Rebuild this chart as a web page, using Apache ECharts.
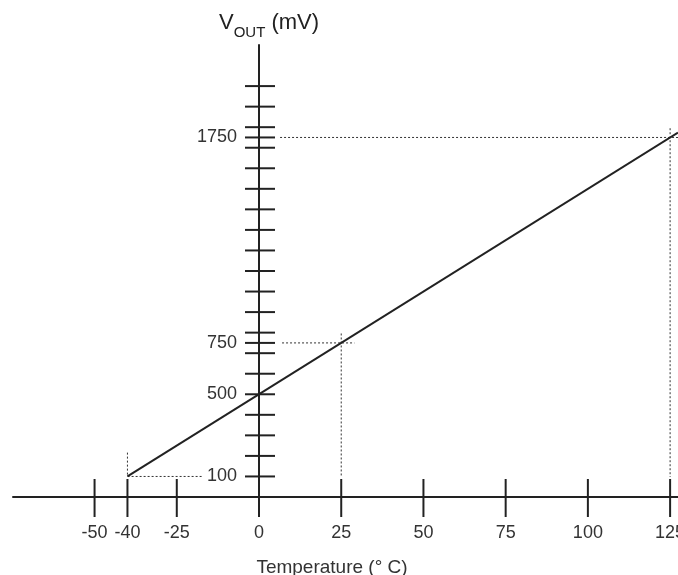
<!DOCTYPE html>
<html>
<head>
<meta charset="utf-8">
<script src="https://cdn.jsdelivr.net/npm/echarts@6/dist/echarts.min.js"></script>
<style>
  html, body { margin: 0; padding: 0; background: #fff; }
  #chart { width: 678px; height: 575px; }
</style>
</head>
<body>
<div id="chart"></div>
<script>
// temperature axis (°C) and output axis (mV)
const tempTicks = [-50, -40, -25, 0, 25, 50, 75, 100, 125];
const voutTicks = [100, 200, 300, 400, 500, 600, 700, 750, 800, 900, 1000, 1100, 1200,
  1300, 1400, 1500, 1600, 1700, 1750, 1800, 1900, 2000];
const voutLabels = [100, 500, 750, 1750];

// transfer line Vout vs temperature
const transferLine = [[-40, 100], [127.4, 1774]];

// dotted guide lines
const guideMin = [[-40, 216], [-40, 100], [-17, 100]];
const guideRoom = [[7, 750], [29, 750]];
const guideRoomV = [[25, 796], [25, 100]];
const guideMax = [[6.4, 1750], [127.4, 1750]];
const guideMaxV = [[125, 1795], [125, 97]];

const ink = '#222';
const font = 'Liberation Sans, Arial, sans-serif';

const chart = echarts.init(document.getElementById('chart'));

const guide = (data) => ({
  type: 'line',
  data: data,
  symbol: 'none',
  silent: true,
  lineStyle: { color: '#333', width: 1, type: [2, 2] },
  z: 2,
});

chart.setOption({
  animation: false,
  backgroundColor: '#fff',
  title: {
    text: '{v|V}{s|OUT}{v| (mV)}',
    left: 214,
    top: 5,
    textStyle: {
      fontWeight: 'normal',
      rich: {
        v: { fontSize: 22, color: ink, fontFamily: font, fontWeight: 'normal', verticalAlign: 'bottom', lineHeight: 24 },
        s: { fontSize: 15, color: ink, fontFamily: font, fontWeight: 'normal', verticalAlign: 'bottom', lineHeight: 14, padding: [0, 0, -6, 0] },
      },
    },
  },
  grid: { left: 13, right: 0, top: 45, bottom: 78, containLabel: false, outerBoundsMode: 'none' },
  xAxis: {
    type: 'value',
    min: -74.8,
    max: 127.4,
    splitLine: { show: false },
    axisLine: { onZero: true, lineStyle: { color: ink, width: 2 } },
    axisTick: { show: false },
    axisLabel: {
      customValues: tempTicks,
      margin: 27,
      fontSize: 18,
      color: '#333',
      fontFamily: font,
    },
    name: 'Temperature (° C)',
    nameLocation: 'middle',
    nameGap: 61,
    nameTextStyle: { fontSize: 19, color: '#333', fontFamily: font, padding: [0, 27, 0, 0] },
  },
  yAxis: {
    type: 'value',
    min: 0,
    max: 2200,
    splitLine: { show: false },
    axisLine: { onZero: true, lineStyle: { color: ink, width: 2 } },
    axisTick: { show: false },
    axisLabel: { show: false },
  },
  series: [
    guide(guideMin),
    guide(guideRoom),
    guide(guideRoomV),
    guide(guideMax),
    guide(guideMaxV),
    {
      type: 'line',
      data: transferLine,
      symbol: 'none',
      lineStyle: { color: ink, width: 2 },
      z: 4,
    },
    {
      // x ticks crossing the axis
      type: 'custom',
      data: tempTicks.map(v => [v]),
      renderItem: (params, api) => {
        const p = api.coord([api.value(0), 0]);
        return {
          type: 'line',
          shape: { x1: p[0], y1: p[1] - 18, x2: p[0], y2: p[1] + 20 },
          style: { stroke: ink, lineWidth: 2 },
        };
      },
      z: 5,
    },
    {
      // y ticks crossing the axis
      type: 'custom',
      data: voutTicks.map(v => [0, v]),
      encode: { x: 0, y: 1 },
      renderItem: (params, api) => {
        const p = api.coord([0, api.value(1)]);
        return {
          type: 'line',
          shape: { x1: p[0] - 14, y1: p[1], x2: p[0] + 16, y2: p[1] },
          style: { stroke: ink, lineWidth: 2 },
        };
      },
      z: 5,
    },
    {
      // y labels left of the vertical axis
      type: 'custom',
      data: voutLabels.map(v => [0, v]),
      encode: { x: 0, y: 1 },
      renderItem: (params, api) => {
        const p = api.coord([0, api.value(1)]);
        return {
          type: 'text',
          x: p[0] - 22,
          y: p[1],
          style: {
            text: String(api.value(1)),
            align: 'right',
            verticalAlign: 'middle',
            fontSize: 18,
            fontFamily: font,
            fill: '#333',
          },
        };
      },
      z: 5,
    },
  ],
});
</script>
</body>
</html>
